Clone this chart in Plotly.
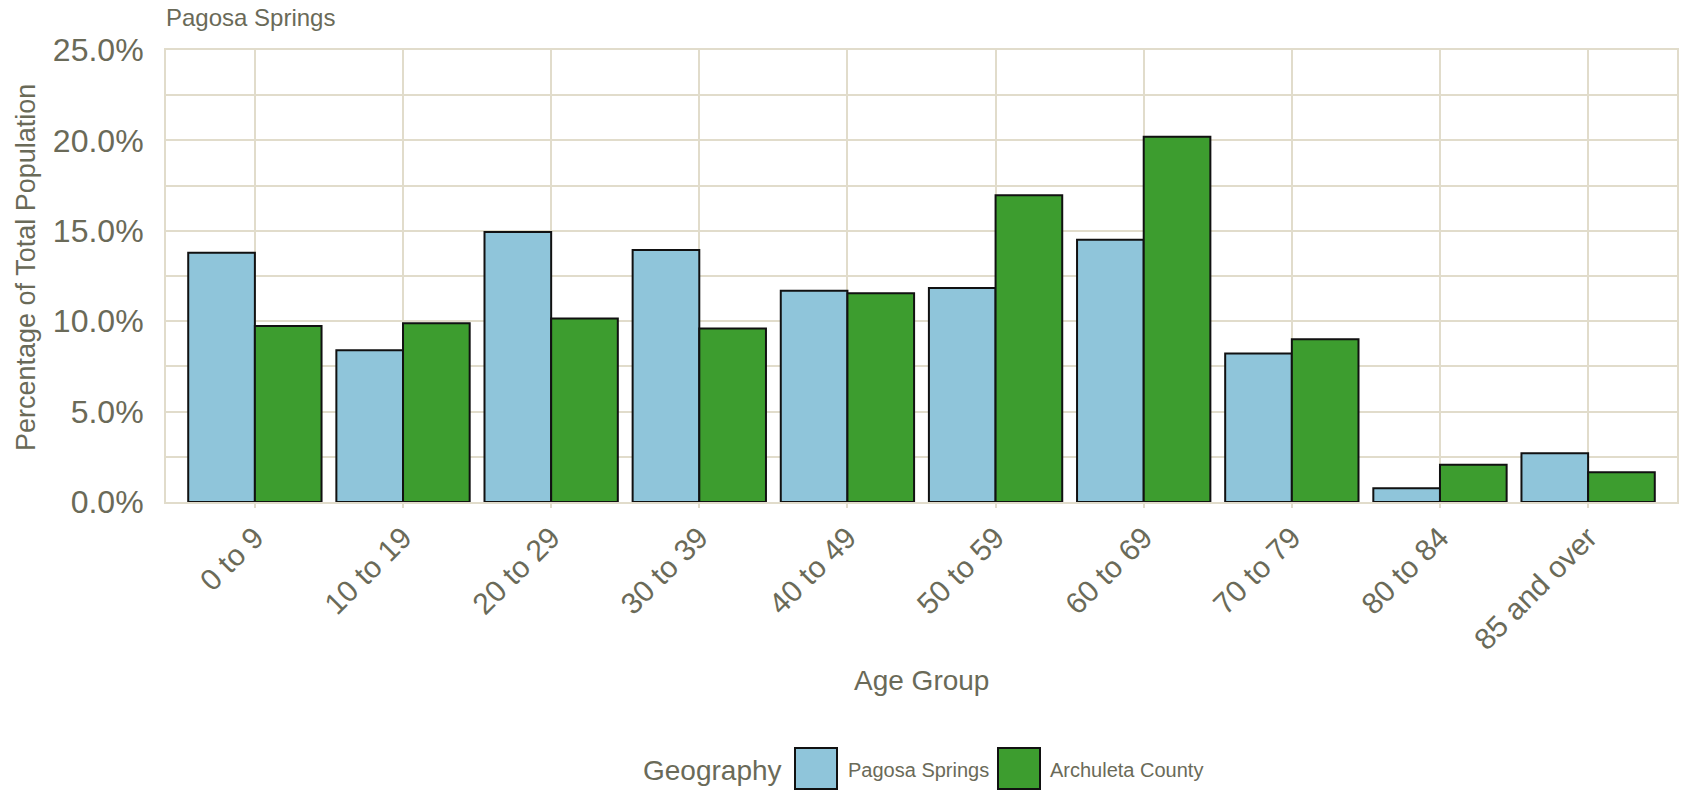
import plotly.graph_objects as go

# ---- data ----
age_groups = ["0 to 9", "10 to 19", "20 to 29", "30 to 39", "40 to 49",
              "50 to 59", "60 to 69", "70 to 79", "80 to 84", "85 and over"]
pagosa_springs = [0.1378, 0.0839, 0.1493, 0.1394, 0.1168,
                  0.1183, 0.1450, 0.0822, 0.0076, 0.0270]
archuleta_county = [0.0974, 0.0989, 0.1015, 0.0959, 0.1154,
                    0.1696, 0.2020, 0.0900, 0.0206, 0.0165]
series_names = ["Pagosa Springs", "Archuleta County"]
y_ticks = [0, 0.05, 0.10, 0.15, 0.20, 0.25]

# ---- style ----
W, H = 1690, 791
# panel in screen pixels
P_LEFT, P_RIGHT, P_TOP, P_BOT = 166, 1677, 50, 502
L, T = P_LEFT, P_TOP
R = W - P_RIGHT
B = H - P_BOT
PW, PH = W - L - R, H - T - B
BLUE = "#8fc5da"
GREEN = "#3d9d2f"
GRID = "#e1dccb"
TXT = "#6a6a58"
FONT = "Liberation Sans, Arial, sans-serif"


def px(x):
    return (x - P_LEFT) / PW


def py(y):
    return (P_BOT - y) / PH


fig = go.Figure()
for name, vals, col in [(series_names[0], pagosa_springs, BLUE),
                        (series_names[1], archuleta_county, GREEN)]:
    fig.add_trace(go.Bar(x=age_groups, y=vals, name=name,
                         marker=dict(color=col, line=dict(color="#111111", width=2)),
                         showlegend=False))

fig.update_layout(
    width=W, height=H,
    margin=dict(l=L, r=R, t=T, b=B, autoexpand=False),
    paper_bgcolor="white", plot_bgcolor="white",
    barmode="group", bargap=0.1, bargroupgap=0,
    font=dict(family=FONT, color=TXT),
    title=dict(text="Pagosa Springs", x=px(166), xref="paper", xanchor="left",
               y=1 - 18 / H, yref="container", yanchor="middle",
               font=dict(size=24, color=TXT, family=FONT)),
)

fig.update_xaxes(
    type="category", range=[-0.6, 9.6],
    showgrid=True, gridcolor=GRID, gridwidth=2,
    showline=True, linecolor=GRID, linewidth=2, mirror=True,
    ticks="outside", ticklen=4, tickcolor=GRID, tickwidth=2,
    tickangle=-45, tickfont=dict(size=30, color=TXT),
    ticklabelstandoff=0,
    zeroline=False,
)
fig.update_yaxes(
    range=[0, 0.25], tickvals=y_ticks, tickformat=".1%",
    showgrid=True, gridcolor=GRID, gridwidth=2,
    minor=dict(dtick=0.025, showgrid=True, gridcolor=GRID, gridwidth=2),
    showline=True, linecolor=GRID, linewidth=2, mirror=True,
    ticks="", tickfont=dict(size=32, color=TXT),
    ticklabelstandoff=14,
    zeroline=False,
)

# axis titles
fig.add_annotation(text="Age Group", xref="paper", yref="paper",
                   x=px(921), y=py(680), showarrow=False,
                   xanchor="center", yanchor="middle",
                   font=dict(size=28, color=TXT))
fig.add_annotation(text="Percentage of Total Population", xref="paper", yref="paper",
                   x=px(26), y=py(268), showarrow=False, textangle=-90,
                   xanchor="center", yanchor="middle",
                   font=dict(size=27, color=TXT))

# manual legend
fig.add_annotation(text="Geography", xref="paper", yref="paper",
                   x=px(784), y=py(770), showarrow=False,
                   xanchor="right", yanchor="middle",
                   font=dict(size=28, color=TXT))
legend_items = [(series_names[0], BLUE, 795, 846), (series_names[1], GREEN, 998, 1048)]
for name, col, bx, tx in legend_items:
    fig.add_shape(type="rect", xref="paper", yref="paper",
                  x0=px(bx), x1=px(bx + 42), y0=py(789), y1=py(748),
                  fillcolor=col, line=dict(color="#111111", width=2))
    fig.add_annotation(text=name, xref="paper", yref="paper",
                       x=px(tx), y=py(770), showarrow=False,
                       xanchor="left", yanchor="middle",
                       font=dict(size=20, color=TXT))

fig.write_html("out.html",
               config={"displayModeBar": False},
               post_script="document.body.style.margin='0';document.body.style.overflow='hidden';")
